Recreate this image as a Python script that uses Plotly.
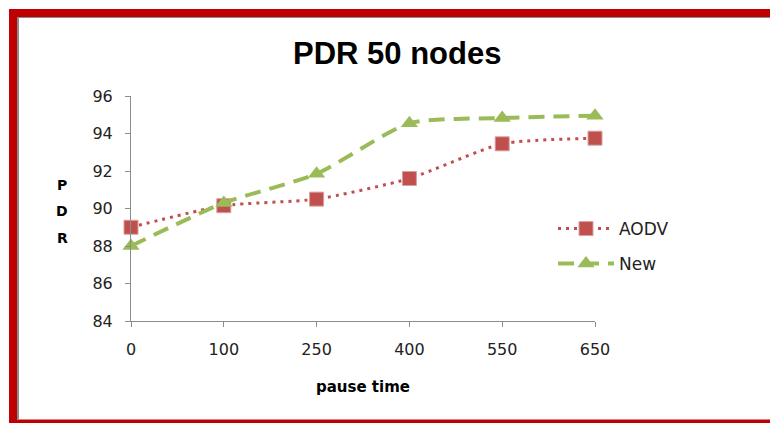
import plotly.graph_objects as go

categories = ["0", "100", "250", "400", "550", "650"]
aodv = [89.0, 90.15, 90.5, 91.6, 93.45, 93.75]
new = [88.0, 90.3, 91.85, 94.55, 94.83, 94.95]
y_ticks = [84, 86, 88, 90, 92, 94, 96]

W, H = 771, 423
L, R, T, B = 131, 595, 96, 321  # plot area pixel edges
pw, ph = R - L, B - T

def px(x):
    return (x - L) / pw

def py(y):
    return (B - y) / ph

fig = go.Figure()
fig.add_trace(go.Scatter(
    x=categories, y=aodv, name="AODV", mode="lines+markers", cliponaxis=False,
    line=dict(color="#C0504D", width=3, dash="3px,5px", shape="spline", smoothing=0.6),
    marker=dict(symbol="square", size=14, color="#C0504D", line=dict(color="#D9A09E", width=1)),
    legend="legend",
))
fig.add_trace(go.Scatter(
    x=categories, y=new, name="New", mode="lines+markers", cliponaxis=False,
    line=dict(color="#9BBB59", width=4, dash="16px,9px", shape="spline", smoothing=0.6),
    marker=dict(symbol="triangle-up", size=15, color="#9BBB59"),
    legend="legend2",
))

axis_color = "#8C8C8C"
tick_font = dict(family="DejaVu Sans", size=16, color="#222222")
fig.update_xaxes(
    type="category", range=[0, len(categories) - 1],
    showline=True, linecolor=axis_color, linewidth=1,
    ticks="outside", ticklen=5, tickcolor=axis_color,
    showgrid=False, zeroline=False, ticklabelstandoff=9,
    tickfont=tick_font,
)
fig.update_yaxes(
    range=[84, 96], tickvals=y_ticks,
    showline=True, linecolor=axis_color, linewidth=1,
    ticks="outside", ticklen=5, tickcolor=axis_color,
    showgrid=False, zeroline=False, ticklabelstandoff=9,
    tickfont=tick_font,
)

red = "#C00000"
gray = "#8C8C8C"
right_edge = 770
shapes = [
    # red frame
    dict(type="rect", xref="paper", yref="paper", x0=px(9), x1=px(right_edge), y0=py(9), y1=py(17),
         fillcolor=red, line=dict(width=0), layer="above"),
    dict(type="rect", xref="paper", yref="paper", x0=px(9), x1=px(17), y0=py(9), y1=py(423),
         fillcolor=red, line=dict(width=0), layer="above"),
    dict(type="rect", xref="paper", yref="paper", x0=px(9), x1=px(right_edge), y0=py(419.5), y1=py(423),
         fillcolor=red, line=dict(width=0), layer="above"),
    # gray inner edges
    dict(type="rect", xref="paper", yref="paper", x0=px(17), x1=px(19), y0=py(17), y1=py(419.5),
         fillcolor=gray, line=dict(width=0), layer="above"),
    dict(type="rect", xref="paper", yref="paper", x0=px(17), x1=px(right_edge), y0=py(17), y1=py(18),
         fillcolor=gray, line=dict(width=0), layer="above"),
]

annotations = [
    dict(text="<b>PDR 50 nodes</b>", xref="paper", yref="paper", x=px(397), y=py(54),
         xanchor="center", yanchor="middle", showarrow=False,
         font=dict(family="Liberation Sans", size=31, color="#000000")),
    dict(text="<b>pause time</b>", xref="paper", yref="paper", x=px(363), y=py(387),
         xanchor="center", yanchor="middle", showarrow=False,
         font=dict(family="DejaVu Sans", size=15, color="#000000")),
]
for letter, ypix in zip(["P", "D", "R"], [185, 211, 238]):
    annotations.append(dict(text=f"<b>{letter}</b>", xref="paper", yref="paper", x=px(62), y=py(ypix),
                            xanchor="center", yanchor="middle", showarrow=False,
                            font=dict(family="DejaVu Sans", size=14, color="#000000")))

legend_style = dict(font=dict(family="DejaVu Sans", size=17, color="#222222"),
                    bgcolor="rgba(0,0,0,0)", borderwidth=0, itemwidth=56,
                    xanchor="left", yanchor="middle")

fig.update_layout(
    width=W, height=H,
    margin=dict(l=L, r=W - R, t=T, b=H - B, pad=0),
    paper_bgcolor="#FFFFFF", plot_bgcolor="#FFFFFF",
    shapes=shapes, annotations=annotations,
    legend=dict(x=px(553), y=py(229), **legend_style),
    legend2=dict(x=px(553), y=py(264), **legend_style),
    showlegend=True,
)

fig.write_html("out.html")
